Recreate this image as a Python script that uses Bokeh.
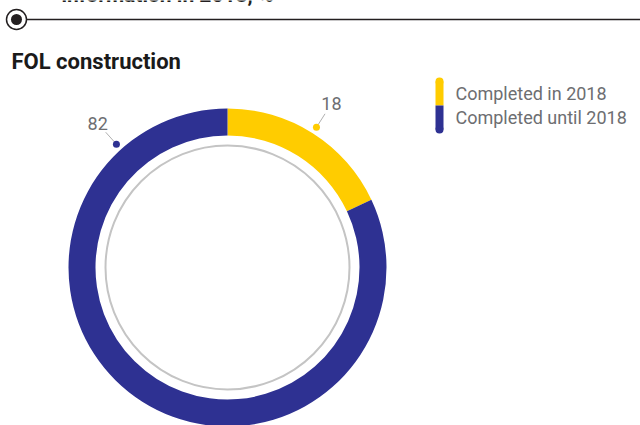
import math
from bokeh.plotting import figure
from bokeh.models import Range1d
from bokeh.core.properties import value
from bokeh.embed import file_html
from bokeh.resources import INLINE

# ---- data ----
categories = ["Completed in 2018", "Completed until 2018"]
values = [18, 82]
colors = ["#ffcc00", "#2e3192"]
title = "FOL construction"
header = "information in 2018, %"

# ---- layout / style ----
W, H = 640, 425
CX, CY = 227, H - 267
R_OUT, R_IN, R_GREY = 159, 132, 122
label_angles = [None, 132.0]  # None -> middle of segment
FONT = "Roboto"
TXT = "#6d6e71"

p = figure(width=W, height=H, x_range=Range1d(0, W), y_range=Range1d(0, H),
           output_backend="svg", toolbar_location=None,
           x_axis_location=None, y_axis_location=None, min_border=0)
p.grid.visible = False
p.outline_line_color = None
p.background_fill_color = "white"

# header (cut off at the top edge, as in the reference)
p.text(x=[61], y=[H + 6], text=[header], text_font=value(FONT), text_font_style="bold",
       text_font_size="21px", text_color="#231f20", text_baseline="middle")
p.segment(x0=[26], y0=[H - 19], x1=[W], y1=[H - 19], line_color="#231f20", line_width=1.3)
p.scatter(x=[16], y=[H - 19], size=20, fill_color="white", line_color="#231f20", line_width=1.5)
p.scatter(x=[16], y=[H - 19], size=11, fill_color="#231f20", line_color=None)

# title
p.text(x=[11], y=[H - 61], text=[title], text_font=value(FONT), text_font_style="bold",
       text_font_size="22px", text_color="#1a1a1a", text_baseline="middle")

# donut
total = sum(values)
start = 90.0
for v, c, la in zip(values, colors, label_angles):
    sweep = v / total * 360.0
    end = start - sweep
    p.annular_wedge(x=CX, y=CY, inner_radius=R_IN, outer_radius=R_OUT,
                    start_angle=math.radians(start), end_angle=math.radians(end),
                    direction="clock", fill_color=c, line_color=None)
    a = math.radians(la if la is not None else (start + end) / 2)
    dx, dy = math.cos(a), math.sin(a)
    p.segment(x0=[CX + 169 * dx], y0=[CY + 169 * dy], x1=[CX + 182 * dx], y1=[CY + 182 * dy],
              line_color="#b0b0b0", line_width=1)
    p.scatter(x=[CX + 166 * dx], y=[CY + 166 * dy], size=7, fill_color=c, line_color=None)
    p.text(x=[CX + 194 * dx], y=[CY + 194 * dy], text=[str(v)], text_font=value(FONT),
           text_font_size="18px", text_color=TXT, text_align="center", text_baseline="middle")
    start = end

p.circle(x=CX, y=CY, radius=R_GREY, fill_color=None, line_color="#c4c4c4", line_width=2)

# legend
LX, LY0, LH = 439, 81, 24
for i, (cat, c) in enumerate(zip(categories, colors)):
    top = H - (LY0 + i * LH)
    bot = H - (LY0 + (i + 1) * LH)
    p.quad(left=LX - 4, right=LX + 4, top=top, bottom=bot, fill_color=c, line_color=None)
    capy = top if i == 0 else bot
    p.scatter(x=[LX], y=[capy], size=8, fill_color=c, line_color=None)
    p.text(x=[455], y=[(top + bot) / 2], text=[cat], text_font=value(FONT),
           text_font_size="18px", text_color=TXT, text_baseline="middle")

open("out.html", "w").write(file_html(p, INLINE))
